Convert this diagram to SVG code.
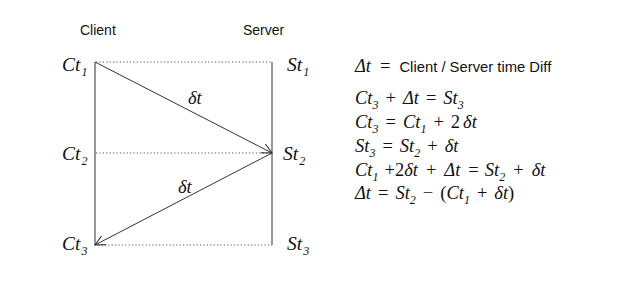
<svg xmlns="http://www.w3.org/2000/svg" width="640" height="292" viewBox="0 0 640 292">
<style>
.m{font-family:"Liberation Serif","DejaVu Serif",serif;font-style:italic;font-size:18.5px;fill:#111}
.lb{font-size:19.5px}
.s{font-size:12px}
.u{font-family:"Liberation Sans",Arial,sans-serif;font-size:14px;font-style:normal;fill:#111}
.n{font-family:"Liberation Serif",serif;font-style:normal;font-size:18.5px;fill:#111}
.dot{stroke:#555;stroke-width:1;stroke-dasharray:1.2 2.2;fill:none}
.ln{stroke:#333;stroke-width:1;fill:none}
</style>
<defs>
<marker id="ah" markerWidth="12" markerHeight="12" refX="11" refY="6" orient="auto" markerUnits="userSpaceOnUse">
<path d="M1,1 L11,6 L1,11" fill="none" stroke="#222" stroke-width="1"/>
</marker>
</defs>
<rect width="640" height="292" fill="#fff"/>
<g id="client-header"><text class="u" x="80" y="35">Client</text></g>
<g id="server-header"><text class="u" x="243" y="35">Server</text></g>
<g id="connectors">
<line class="ln" x1="95" y1="62" x2="95" y2="245"/>
<line class="ln" x1="272" y1="62" x2="272" y2="245"/>
<line class="dot" x1="96" y1="62" x2="272" y2="62"/>
<line class="dot" x1="96" y1="153" x2="270" y2="153"/>
<line class="dot" x1="98" y1="245" x2="272" y2="245"/>
<line class="ln" x1="95" y1="62" x2="272" y2="153" marker-end="url(#ah)"/>
<line class="ln" x1="272" y1="153" x2="95" y2="245" marker-end="url(#ah)"/>
<text class="m" x="188" y="104">δt</text>
<text class="m" x="178" y="193">δt</text>
</g>
<g id="ct1"><text class="m lb" x="62" y="71">Ct<tspan class="s" dx="1" dy="5">1</tspan></text></g>
<g id="st1"><text class="m lb" x="287" y="71">St<tspan class="s" dx="1" dy="5">1</tspan></text></g>
<g id="ct2"><text class="m lb" x="62" y="160">Ct<tspan class="s" dx="1" dy="5">2</tspan></text></g>
<g id="st2"><text class="m lb" x="283" y="160">St<tspan class="s" dx="1" dy="5">2</tspan></text></g>
<g id="ct3"><text class="m lb" x="62" y="250">Ct<tspan class="s" dx="1" dy="5">3</tspan></text></g>
<g id="st3"><text class="m lb" x="287" y="250">St<tspan class="s" dx="1" dy="5">3</tspan></text></g>
<g id="equations">
<text class="m" x="355" y="72">Δt<tspan class="n" dx="9">=</tspan><tspan class="u" dx="9" style="font-size:14.8px">Client / Server time Diff</tspan></text>
<text class="m" x="355" y="104">Ct<tspan class="s" dy="5">3</tspan><tspan class="n" dy="-5" dx="7">+</tspan><tspan dx="7">Δt</tspan><tspan class="n" dx="7">=</tspan><tspan dx="7">St</tspan><tspan class="s" dy="5">3</tspan></text>
<text class="m" x="355" y="128">Ct<tspan class="s" dy="5">3</tspan><tspan class="n" dy="-5" dx="7">=</tspan><tspan dx="7">Ct</tspan><tspan class="s" dy="5">1</tspan><tspan class="n" dy="-5" dx="7">+</tspan><tspan class="n" dx="7">2</tspan><tspan dx="3">δt</tspan></text>
<text class="m" x="355" y="152">St<tspan class="s" dy="5">3</tspan><tspan class="n" dy="-5" dx="7">=</tspan><tspan dx="7">St</tspan><tspan class="s" dy="5">2</tspan><tspan class="n" dy="-5" dx="7">+</tspan><tspan dx="7">δt</tspan></text>
<text class="m" x="355" y="176">Ct<tspan class="s" dy="5">1</tspan><tspan class="n" dy="-5" dx="6">+2</tspan><tspan>δt</tspan><tspan class="n" dx="8">+</tspan><tspan dx="8">Δt</tspan><tspan class="n" dx="8">=</tspan><tspan dx="6">St</tspan><tspan class="s" dy="5">2</tspan><tspan class="n" dy="-5" dx="8">+</tspan><tspan dx="8">δt</tspan></text>
<text class="m" x="355" y="199">Δt<tspan class="n" dx="7">=</tspan><tspan dx="7">St</tspan><tspan class="s" dy="5">2</tspan><tspan class="n" dy="-5" dx="7">−</tspan><tspan class="n" dx="7">(</tspan>Ct<tspan class="s" dy="5">1</tspan><tspan class="n" dy="-5" dx="7">+</tspan><tspan dx="7">δt</tspan><tspan class="n">)</tspan></text>
</g>
</svg>
